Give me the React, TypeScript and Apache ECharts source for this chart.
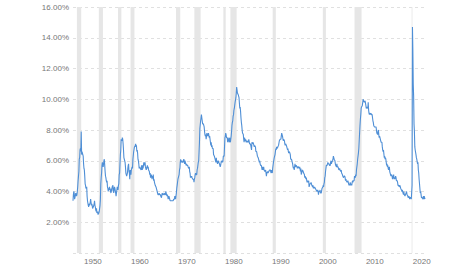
import React, { useEffect, useRef } from "react";
import * as echarts from "echarts";

// US unemployment rate (%), monthly, one row per year starting 1948
const startYear = 1948;
const monthlyRates: number[][] = [
  [3.4, 3.8, 4.0, 3.9, 3.5, 3.6, 3.6, 3.9, 3.8, 3.7, 3.8, 4.0],
  [4.3, 4.7, 5.0, 5.3, 6.1, 6.2, 6.7, 6.8, 6.6, 7.9, 6.4, 6.6],
  [6.5, 6.4, 6.3, 5.8, 5.5, 5.4, 5.0, 4.5, 4.4, 4.2, 4.2, 4.3],
  [3.7, 3.4, 3.4, 3.1, 3.0, 3.2, 3.1, 3.1, 3.3, 3.5, 3.5, 3.1],
  [3.2, 3.1, 2.9, 2.9, 3.0, 3.0, 3.2, 3.4, 3.1, 3.0, 2.8, 2.7],
  [2.9, 2.6, 2.6, 2.7, 2.5, 2.5, 2.6, 2.7, 2.9, 3.1, 3.5, 4.5],
  [4.9, 5.2, 5.7, 5.9, 5.9, 5.6, 5.8, 6.0, 6.1, 5.7, 5.3, 5.0],
  [4.9, 4.7, 4.6, 4.7, 4.3, 4.2, 4.0, 4.2, 4.1, 4.3, 4.2, 4.2],
  [4.0, 3.9, 4.2, 4.0, 4.3, 4.3, 4.4, 4.1, 3.9, 3.9, 4.3, 4.2],
  [4.2, 3.9, 3.7, 3.9, 4.1, 4.3, 4.2, 4.1, 4.4, 4.5, 5.1, 5.2],
  [5.8, 6.4, 6.7, 7.4, 7.4, 7.3, 7.5, 7.4, 7.1, 6.7, 6.2, 6.2],
  [6.0, 5.9, 5.6, 5.2, 5.1, 5.0, 5.1, 5.2, 5.5, 5.7, 5.8, 5.3],
  [5.2, 4.8, 5.4, 5.2, 5.1, 5.4, 5.5, 5.6, 5.5, 6.1, 6.1, 6.6],
  [6.6, 6.9, 6.9, 7.0, 7.1, 6.9, 7.0, 6.6, 6.7, 6.5, 6.1, 6.0],
  [5.8, 5.5, 5.6, 5.6, 5.5, 5.5, 5.4, 5.7, 5.6, 5.4, 5.7, 5.5],
  [5.7, 5.9, 5.7, 5.7, 5.9, 5.6, 5.6, 5.4, 5.5, 5.5, 5.7, 5.5],
  [5.6, 5.4, 5.4, 5.3, 5.1, 5.2, 4.9, 5.0, 5.1, 5.1, 4.8, 5.0],
  [4.9, 5.1, 4.7, 4.8, 4.6, 4.6, 4.4, 4.4, 4.3, 4.2, 4.1, 4.0],
  [4.0, 3.8, 3.8, 3.8, 3.9, 3.8, 3.8, 3.8, 3.7, 3.7, 3.6, 3.8],
  [3.9, 3.8, 3.8, 3.8, 3.8, 3.9, 3.8, 3.8, 3.8, 4.0, 3.9, 3.8],
  [3.7, 3.8, 3.7, 3.5, 3.5, 3.7, 3.7, 3.5, 3.4, 3.4, 3.4, 3.4],
  [3.4, 3.4, 3.4, 3.4, 3.4, 3.5, 3.5, 3.5, 3.7, 3.7, 3.5, 3.5],
  [3.9, 4.2, 4.4, 4.6, 4.8, 4.9, 5.0, 5.1, 5.4, 5.5, 5.9, 6.1],
  [5.9, 5.9, 6.0, 5.9, 5.9, 5.9, 6.0, 6.1, 6.0, 5.8, 6.0, 6.0],
  [5.8, 5.7, 5.8, 5.7, 5.7, 5.7, 5.6, 5.6, 5.5, 5.6, 5.3, 5.2],
  [4.9, 5.0, 4.9, 5.0, 4.9, 4.9, 4.8, 4.8, 4.8, 4.6, 4.8, 4.9],
  [5.1, 5.2, 5.1, 5.1, 5.1, 5.4, 5.5, 5.5, 5.9, 6.0, 6.6, 7.2],
  [8.1, 8.1, 8.6, 8.8, 9.0, 8.8, 8.6, 8.4, 8.4, 8.4, 8.3, 8.2],
  [7.9, 7.7, 7.6, 7.7, 7.4, 7.6, 7.8, 7.8, 7.6, 7.7, 7.8, 7.8],
  [7.5, 7.6, 7.4, 7.2, 7.0, 7.2, 6.9, 7.0, 6.8, 6.8, 6.8, 6.4],
  [6.4, 6.3, 6.3, 6.1, 6.0, 5.9, 6.2, 5.9, 6.0, 5.8, 5.9, 6.0],
  [5.9, 5.9, 5.8, 5.8, 5.6, 5.7, 5.7, 6.0, 5.9, 6.0, 5.9, 6.0],
  [6.3, 6.3, 6.3, 6.9, 7.5, 7.6, 7.8, 7.7, 7.5, 7.5, 7.5, 7.2],
  [7.5, 7.4, 7.4, 7.2, 7.5, 7.5, 7.2, 7.4, 7.6, 7.9, 8.3, 8.5],
  [8.6, 8.9, 9.0, 9.3, 9.4, 9.6, 9.8, 9.8, 10.1, 10.4, 10.8, 10.8],
  [10.4, 10.4, 10.3, 10.2, 10.1, 10.1, 9.4, 9.5, 9.2, 8.8, 8.5, 8.3],
  [8.0, 7.8, 7.8, 7.7, 7.4, 7.2, 7.5, 7.5, 7.3, 7.4, 7.2, 7.3],
  [7.3, 7.2, 7.2, 7.3, 7.2, 7.4, 7.4, 7.1, 7.1, 7.1, 7.0, 7.0],
  [6.7, 7.2, 7.2, 7.1, 7.2, 7.2, 7.0, 6.9, 7.0, 7.0, 6.9, 6.6],
  [6.6, 6.6, 6.6, 6.3, 6.3, 6.2, 6.1, 6.0, 5.9, 6.0, 5.8, 5.7],
  [5.7, 5.7, 5.7, 5.4, 5.6, 5.4, 5.4, 5.6, 5.4, 5.4, 5.3, 5.3],
  [5.4, 5.2, 5.0, 5.2, 5.2, 5.3, 5.2, 5.2, 5.3, 5.3, 5.4, 5.4],
  [5.4, 5.3, 5.2, 5.4, 5.4, 5.2, 5.5, 5.7, 5.9, 5.9, 6.2, 6.3],
  [6.4, 6.6, 6.8, 6.7, 6.9, 6.9, 6.8, 6.9, 6.9, 7.0, 7.0, 7.3],
  [7.3, 7.4, 7.4, 7.4, 7.6, 7.8, 7.7, 7.6, 7.6, 7.3, 7.4, 7.4],
  [7.3, 7.1, 7.0, 7.1, 7.1, 7.0, 6.9, 6.8, 6.7, 6.8, 6.6, 6.5],
  [6.6, 6.6, 6.5, 6.4, 6.1, 6.1, 6.1, 6.0, 5.9, 5.8, 5.6, 5.5],
  [5.6, 5.4, 5.4, 5.8, 5.6, 5.6, 5.7, 5.7, 5.6, 5.5, 5.6, 5.6],
  [5.6, 5.5, 5.5, 5.6, 5.6, 5.3, 5.5, 5.1, 5.2, 5.2, 5.4, 5.4],
  [5.3, 5.2, 5.2, 5.1, 4.9, 5.0, 4.9, 4.8, 4.9, 4.7, 4.6, 4.7],
  [4.6, 4.6, 4.7, 4.3, 4.4, 4.5, 4.5, 4.5, 4.6, 4.5, 4.4, 4.4],
  [4.3, 4.4, 4.2, 4.3, 4.2, 4.3, 4.3, 4.2, 4.2, 4.1, 4.1, 4.0],
  [4.0, 4.1, 4.0, 3.8, 4.0, 4.0, 4.0, 4.1, 3.9, 3.9, 3.9, 3.9],
  [4.2, 4.2, 4.3, 4.4, 4.3, 4.5, 4.6, 4.9, 5.0, 5.3, 5.5, 5.7],
  [5.7, 5.7, 5.7, 5.9, 5.8, 5.8, 5.8, 5.7, 5.7, 5.7, 5.9, 6.0],
  [5.8, 5.9, 5.9, 6.0, 6.1, 6.3, 6.2, 6.1, 6.1, 6.0, 5.8, 5.7],
  [5.7, 5.6, 5.8, 5.6, 5.6, 5.6, 5.5, 5.4, 5.4, 5.5, 5.4, 5.4],
  [5.3, 5.4, 5.2, 5.2, 5.1, 5.0, 5.0, 4.9, 5.0, 5.0, 5.0, 4.9],
  [4.7, 4.8, 4.7, 4.7, 4.6, 4.6, 4.7, 4.7, 4.5, 4.4, 4.5, 4.4],
  [4.6, 4.5, 4.4, 4.5, 4.4, 4.6, 4.7, 4.6, 4.7, 4.7, 4.7, 5.0],
  [5.0, 4.9, 5.1, 5.0, 5.4, 5.6, 5.8, 6.1, 6.1, 6.5, 6.8, 7.3],
  [7.8, 8.3, 8.7, 9.0, 9.4, 9.5, 9.5, 9.6, 9.8, 10.0, 9.9, 9.9],
  [9.8, 9.8, 9.9, 9.9, 9.6, 9.4, 9.4, 9.5, 9.5, 9.4, 9.8, 9.3],
  [9.1, 9.0, 9.0, 9.1, 9.0, 9.1, 9.0, 9.0, 9.0, 8.8, 8.6, 8.5],
  [8.3, 8.3, 8.2, 8.2, 8.2, 8.2, 8.2, 8.0, 7.8, 7.8, 7.7, 7.9],
  [8.0, 7.7, 7.5, 7.6, 7.5, 7.5, 7.3, 7.2, 7.2, 7.2, 6.9, 6.7],
  [6.6, 6.7, 6.7, 6.2, 6.3, 6.1, 6.2, 6.1, 5.9, 5.7, 5.8, 5.6],
  [5.7, 5.5, 5.4, 5.4, 5.6, 5.3, 5.2, 5.1, 5.0, 5.0, 5.1, 5.0],
  [4.8, 4.9, 5.0, 5.1, 4.8, 4.9, 4.8, 4.9, 5.0, 4.9, 4.7, 4.7],
  [4.7, 4.6, 4.4, 4.4, 4.4, 4.3, 4.3, 4.4, 4.3, 4.2, 4.2, 4.1],
  [4.0, 4.1, 4.0, 4.0, 3.8, 4.0, 3.8, 3.8, 3.7, 3.8, 3.8, 3.9],
  [4.0, 3.8, 3.8, 3.7, 3.6, 3.6, 3.7, 3.6, 3.5, 3.6, 3.6, 3.6],
  [3.5, 3.5, 4.4, 14.7, 13.2, 11.0, 10.2, 8.4, 7.9, 6.9, 6.7, 6.7],
  [6.4, 6.2, 6.1, 6.1, 5.8, 5.9, 5.4, 5.2, 4.8, 4.5, 4.2, 3.9],
  [4.0, 3.8, 3.6, 3.6, 3.6, 3.6, 3.5, 3.7, 3.5, 3.7, 3.6, 3.5],
];

// Recession periods [start, end] as fractional years
const recessions: [number, number][] = [
  [1948.83, 1949.75],
  [1953.5, 1954.37],
  [1957.58, 1958.29],
  [1960.25, 1961.08],
  [1969.92, 1970.83],
  [1973.83, 1975.17],
  [1980.0, 1980.5],
  [1981.5, 1982.83],
  [1990.5, 1991.17],
  [2001.17, 2001.83],
  [2007.92, 2009.42],
  [2020.08, 2020.25],
];

const xTickYears = [1950, 1960, 1970, 1980, 1990, 2000, 2010, 2020];

export default function App() {
  const ref = useRef<HTMLDivElement>(null);

  useEffect(() => {
    if (!ref.current) return;
    const chart = echarts.init(ref.current, undefined, { renderer: "svg" });

    const data: [number, number][] = [];
    monthlyRates.forEach((row, yi) => {
      row.forEach((v, mi) => {
        data.push([startYear + yi + mi / 12, v]);
      });
    });

    const font = "Liberation Sans, Arial, sans-serif";

    chart.setOption({
      animation: false,
      backgroundColor: "#ffffff",
      grid: { left: 73, right: 49, top: 7, bottom: 13, containLabel: false },
      xAxis: {
        type: "value",
        min: 1948,
        max: 2022.92,
        axisLine: { show: false },
        axisTick: { show: false },
        splitLine: { show: false },
        axisLabel: {
          customValues: xTickYears,
          formatter: (v: number) => String(Math.round(v)),
          color: "#777777",
          fontSize: 8,
          fontFamily: font,
          margin: 4,
          padding: [0, 0, 0, 21],
        },
      },
      yAxis: {
        type: "value",
        min: 0,
        max: 16,
        interval: 2,
        axisLine: { show: false },
        axisTick: { show: false },
        splitLine: {
          show: true,
          lineStyle: { color: "#e0e0e0", type: [3, 3], width: 1 },
        },
        axisLabel: {
          formatter: (v: number) => (v === 0 ? "" : v.toFixed(2) + "%"),
          color: "#777777",
          fontSize: 8,
          fontFamily: font,
          margin: 4,
        },
      },
      series: [
        {
          type: "line",
          data,
          showSymbol: false,
          symbol: "none",
          lineStyle: { color: "#4f8fd6", width: 1.1 },
          z: 3,
          markArea: {
            silent: true,
            itemStyle: { color: "#e6e6e6", opacity: 1 },
            data: recessions.map(([a, b]) => [{ xAxis: a }, { xAxis: b }]),
          },
        },
      ],
    });

    return () => chart.dispose();
  }, []);

  return (
    <div
      ref={ref}
      style={{ position: "fixed", left: 0, top: 0, width: 474, height: 266 }}
    />
  );
}
